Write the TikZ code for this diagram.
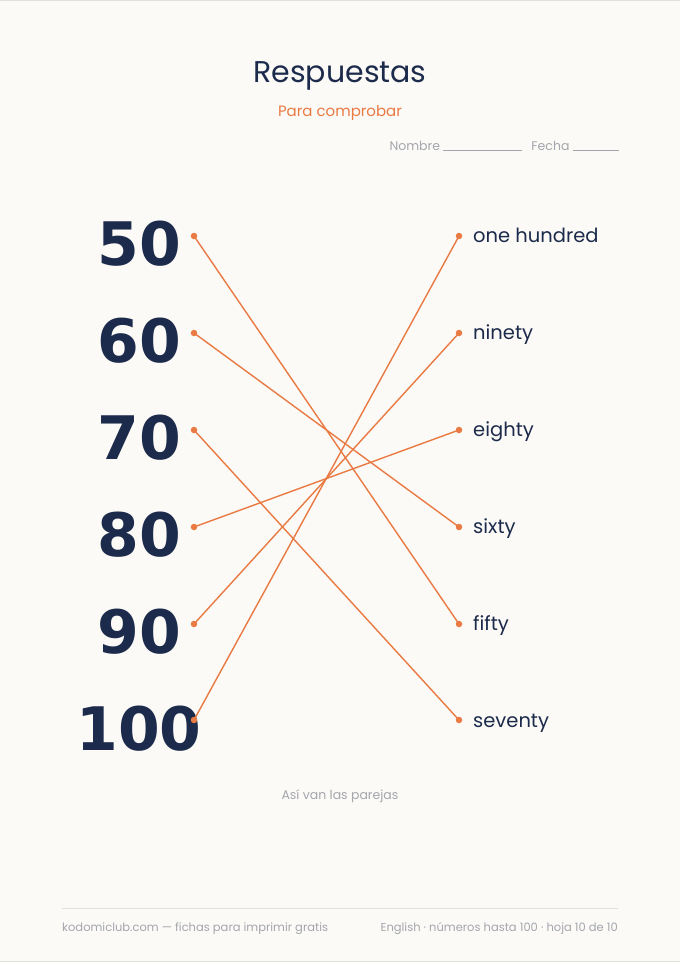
\documentclass[tikz,border=0pt]{standalone}
\usepackage{fontspec}
\setmainfont{Poppins}
\newfontfamily\numfont{DejaVu Sans}
\usetikzlibrary{positioning}
\definecolor{papel}{HTML}{FCFAF6}
\definecolor{tinta}{HTML}{1C2B4B}
\definecolor{naranja}{HTML}{E97A43}
\definecolor{gris}{HTML}{A3A6AD}
\definecolor{regla}{HTML}{E2E0DB}

\begin{document}
\begin{tikzpicture}[
        x=1pt, y=-1pt,
        numero/.style={anchor=base, inner sep=0pt, text=tinta, font=\numfont\bfseries\fontsize{60}{62}\selectfont},
        palabra/.style={anchor=base west, inner sep=0pt, text=tinta, font=\fontsize{19.5}{21}\selectfont},
        punto/.style={circle, fill=naranja, inner sep=0pt, minimum size=6.5pt},
        nota/.style={inner sep=0pt, text=gris, font=\fontsize{12.5}{14}\selectfont},
        pareja/.style={draw=naranja, line width=1.4pt}
    ]

    % FONDO
    \fill[papel] (0,0) rectangle (680,962);
    \useasboundingbox (0,0) rectangle (680,962);
    \draw[regla, line width=1.5pt] (0,0.5) -- (680,0.5);
    \draw[regla, line width=1.5pt] (0,961.5) -- (680,961.5);

    % CABECERA
    \node[anchor=base, inner sep=0pt, text=tinta, font=\fontsize{30}{32}\selectfont] (titulo) at (340,82) {Respuestas};
    \node[anchor=base, inner sep=0pt, text=naranja, font=\fontsize{15}{17}\selectfont] (subtitulo) at (340,116) {Para comprobar};
    \node[nota, anchor=base east, font=\fontsize{12.5}{14}\selectfont] (datos) at (619,150) {Nombre \rule[-1pt]{79pt}{0.7pt}\hspace{9pt}Fecha \rule[-1pt]{46pt}{0.7pt}};

    % NUMEROS
    \node[numero] (n50) at (139,265) {50};
    \node[numero] (n60) at (139,362) {60};
    \node[numero] (n70) at (139,459) {70};
    \node[numero] (n80) at (139,556) {80};
    \node[numero] (n90) at (139,653) {90};
    \node[numero] (n100) at (139,750) {100};

    % PALABRAS
    \node[palabra] (w100) at (473,242) {one hundred};
    \node[palabra] (w90) at (473,339) {ninety};
    \node[palabra] (w80) at (473,436) {eighty};
    \node[palabra] (w60) at (473,533) {sixty};
    \node[palabra] (w50) at (473,630) {fifty};
    \node[palabra] (w70) at (473,727) {seventy};

    % Puntos de union
    \node[punto] (i50) at (194,236) {};
    \node[punto] (i60) at (194,333) {};
    \node[punto] (i70) at (194,430) {};
    \node[punto] (i80) at (194,527) {};
    \node[punto] (i90) at (194,624) {};
    \node[punto] (i100) at (194,720) {};
    \node[punto] (d100) at (459,236) {};
    \node[punto] (d90) at (459,333) {};
    \node[punto] (d80) at (459,430) {};
    \node[punto] (d60) at (459,527) {};
    \node[punto] (d50) at (459,624) {};
    \node[punto] (d70) at (459,720) {};

    % Parejas
    \draw[pareja] (i50.center) -- (d50.center);
    \draw[pareja] (i60.center) -- (d60.center);
    \draw[pareja] (i70.center) -- (d70.center);
    \draw[pareja] (i80.center) -- (d80.center);
    \draw[pareja] (i90.center) -- (d90.center);
    \draw[pareja] (i100.center) -- (d100.center);

    % PIE
    \node[nota, anchor=base] (pista) at (340,799) {Así van las parejas};
    \coordinate (reglaA) at (62,908);
    \coordinate (reglaB) at (618,908);
    \draw[regla, line width=0.8pt] (reglaA) -- (reglaB);
    \node[nota, anchor=base west, font=\fontsize{11.5}{13}\selectfont] (web) at (62,931) {kodomiclub.com — fichas para imprimir gratis};
    \node[nota, anchor=base east, font=\fontsize{11.5}{13}\selectfont] (hoja) at (618,931) {English · números hasta 100 · hoja 10 de 10};
\end{tikzpicture}
\end{document}
